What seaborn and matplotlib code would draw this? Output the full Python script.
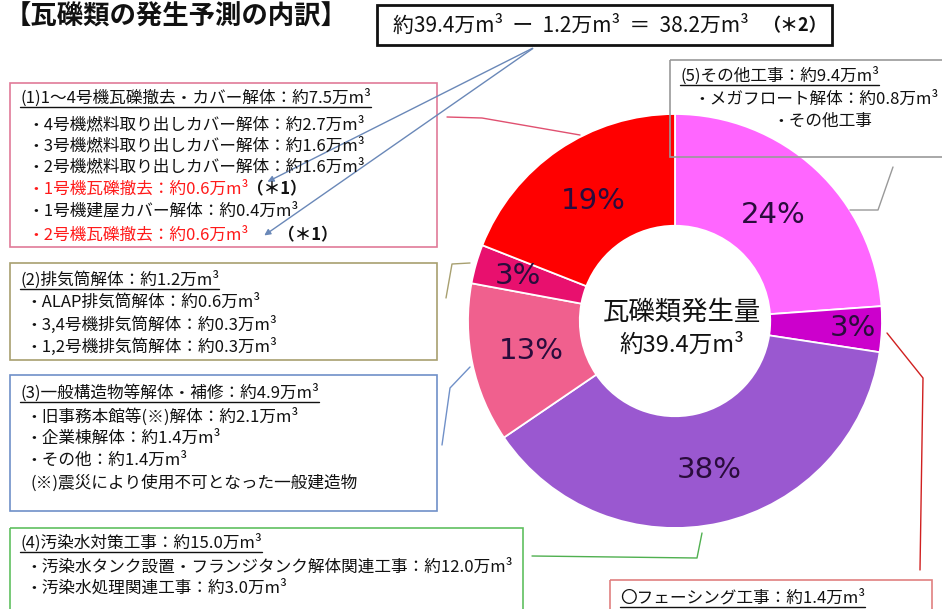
import numpy as np
import matplotlib.pyplot as plt
from matplotlib.patches import Rectangle
import seaborn as sns

# 瓦礫類の発生予測 (万m3), clockwise from 12 o'clock
categories = ["その他工事", "フェーシング工事", "汚染水対策工事",
              "一般構造物等解体・補修", "排気筒解体", "1～4号機瓦礫撤去・カバー解体"]
volumes = [9.4, 1.4, 15.0, 4.9, 1.2, 7.5]
pct_labels = ["24%", "3%", "38%", "13%", "3%", "19%"]
center_title = "瓦礫類発生量"
center_total = "約39.4万m³"

title = "【瓦礫類の発生予測の内訳】"
equation = "約39.4万m³  ー  1.2万m³  ＝  38.2万m³"
equation_note = "（＊2）"

box1_lines = ["(1)1～4号機瓦礫撤去・カバー解体：約7.5万m³",
              "・4号機燃料取り出しカバー解体：約2.7万m³",
              "・3号機燃料取り出しカバー解体：約1.6万m³",
              "・2号機燃料取り出しカバー解体：約1.6万m³",
              "・1号機瓦礫撤去：約0.6万m³",
              "・1号機建屋カバー解体：約0.4万m³",
              "・2号機瓦礫撤去：約0.6万m³"]
box2_lines = ["(2)排気筒解体：約1.2万m³",
              "・ALAP排気筒解体：約0.6万m³",
              "・3,4号機排気筒解体：約0.3万m³",
              "・1,2号機排気筒解体：約0.3万m³"]
box3_lines = ["(3)一般構造物等解体・補修：約4.9万m³",
              "・旧事務本館等(※)解体：約2.1万m³",
              "・企業棟解体：約1.4万m³",
              "・その他：約1.4万m³",
              "(※)震災により使用不可となった一般建造物"]
box4_lines = ["(4)汚染水対策工事：約15.0万m³",
              "・汚染水タンク設置・フランジタンク解体関連工事：約12.0万m³",
              "・汚染水処理関連工事：約3.0万m³"]
box5_lines = ["(5)その他工事：約9.4万m³",
              "・メガフロート解体：約0.8万m³",
              "・その他工事"]
fence_line = "〇フェーシング工事：約1.4万m³"
note_mark = "（＊1）"

# styles
colors = ["#FF66FF", "#CC00CC", "#9A58D0", "#F0608E", "#E8106E", "#FF0000"]
label_r = [0.70, 0.86, 0.74, 0.71, 0.79, 0.70]
red_txt = "#FF1A1A"

sns.set_theme(style="white")
plt.rcParams['font.family'] = ['Noto Sans CJK JP', 'DejaVu Sans']

W, H = 942, 609
fig = plt.figure(figsize=(W / 100, H / 100), dpi=100)
fig.patch.set_facecolor("white")

# donut, centre (675, 321) px, radius 207 px
cx, cy, R = 675, 321, 207
ax = fig.add_axes([(cx - R) / W, (H - cy - R) / H, 2 * R / W, 2 * R / H])
ax.set_zorder(1)
wedges, _ = ax.pie(volumes, colors=colors, startangle=90, counterclock=False,
                   radius=1, wedgeprops=dict(width=0.54, edgecolor="white", linewidth=1.3))
ax.set_xlim(-1, 1)
ax.set_ylim(-1, 1)
ax.axis("off")
for w, lab, r in zip(wedges, pct_labels, label_r):
    mid = np.deg2rad((w.theta1 + w.theta2) / 2)
    ax.text(r * np.cos(mid), r * np.sin(mid), lab, ha="center", va="center",
            fontsize=21, color="#2A0C3C", family="DejaVu Sans")

# overlay in pixel coordinates
ov = fig.add_axes([0, 0, 1, 1])
ov.set_zorder(2)
ov.patch.set_alpha(0)
ov.set_xlim(0, W)
ov.set_ylim(H, 0)
ov.axis("off")

renderer = fig.canvas.get_renderer()


def put(x, y, s, underline=False, **kw):
    kw.setdefault("fontsize", 12)
    kw.setdefault("color", "#111111")
    t = ov.text(x, y, s, ha="left", va="center", **kw)
    if underline:
        bb = t.get_window_extent(renderer)
        x1 = x + bb.width
        ov.plot([x, x1], [y + 9, y + 9], color=kw["color"], lw=1.0)
    return t


def box(x0, y0, x1, y1, ec, lw=1.2):
    ov.add_patch(Rectangle((x0, y0), x1 - x0, y1 - y0, fill=False, ec=ec, lw=lw))


ov.text(5, 17, title, ha="left", va="center", fontsize=19, fontweight="bold", color="#111111")

# equation box
box(377, 5, 832, 45, "#111111", lw=2)
ov.text(393, 26, equation, ha="left", va="center", fontsize=15, color="#111111")
ov.text(762, 26, equation_note, ha="left", va="center", fontsize=13, fontweight="bold", color="#111111")
for tx, ty in [(265, 183), (262, 237)]:
    ov.annotate("", xy=(tx, ty), xytext=(535, 47),
                arrowprops=dict(arrowstyle="-|>", color="#6A88B8", lw=1.0, mutation_scale=9))

# box (1)
box(10, 83, 437, 247, "#E07A98")
ys1 = [98, 125, 146, 167, 189, 211, 235]
for i, (s, y) in enumerate(zip(box1_lines, ys1)):
    if i == 0:
        put(20, y, s, underline=True)
    elif i in (4, 6):
        put(27, y, s, color=red_txt)
    else:
        put(27, y, s)
put(247, 189, note_mark, fontweight="bold")
put(278, 235, note_mark, fontweight="bold")
ov.plot([447, 482, 580], [117, 118, 135], color="#E05070", lw=1.0)

# box (2)
box(10, 263, 437, 360, "#A8A070")
for i, (s, y) in enumerate(zip(box2_lines, [280, 302, 325, 347])):
    put(20 if i == 0 else 25, y, s, underline=(i == 0))
ov.plot([446, 452, 470], [298, 264, 263], color="#A8A070", lw=1.0)

# box (3)
box(10, 375, 437, 511, "#7090C8")
for i, (s, y) in enumerate(zip(box3_lines, [393, 417, 438, 460, 483])):
    put(20 if i == 0 else (30 if i == 4 else 25), y, s, underline=(i == 0))
ov.plot([442, 450, 470], [445, 388, 367], color="#7090C8", lw=1.0)

# box (4)
box(10, 528, 523, 620, "#60C060")
for i, (s, y) in enumerate(zip(box4_lines, [543, 567, 588])):
    put(20 if i == 0 else 25, y, s, underline=(i == 0))
ov.plot([532, 697, 702], [556, 558, 533], color="#50B050", lw=1.0)

# box (5)
box(670, 60, 950, 157, "#999999")
put(680, 76, box5_lines[0], underline=True)
put(693, 99, box5_lines[1])
put(772, 121, box5_lines[2])
ov.plot([893, 878, 850], [167, 210, 210], color="#999999", lw=1.0)

# facing box
box(610, 580, 932, 620, "#E08080")
put(620, 598, fence_line, underline=True)
ov.plot([887, 923, 920], [333, 378, 570], color="#D02020", lw=1.0)

# centre text
ov.text(682, 312, center_title, ha="center", va="center", fontsize=19, color="#111111")
ov.text(682, 345, center_total, ha="center", va="center", fontsize=17, color="#111111")

fig.savefig("out.png", dpi=100)
